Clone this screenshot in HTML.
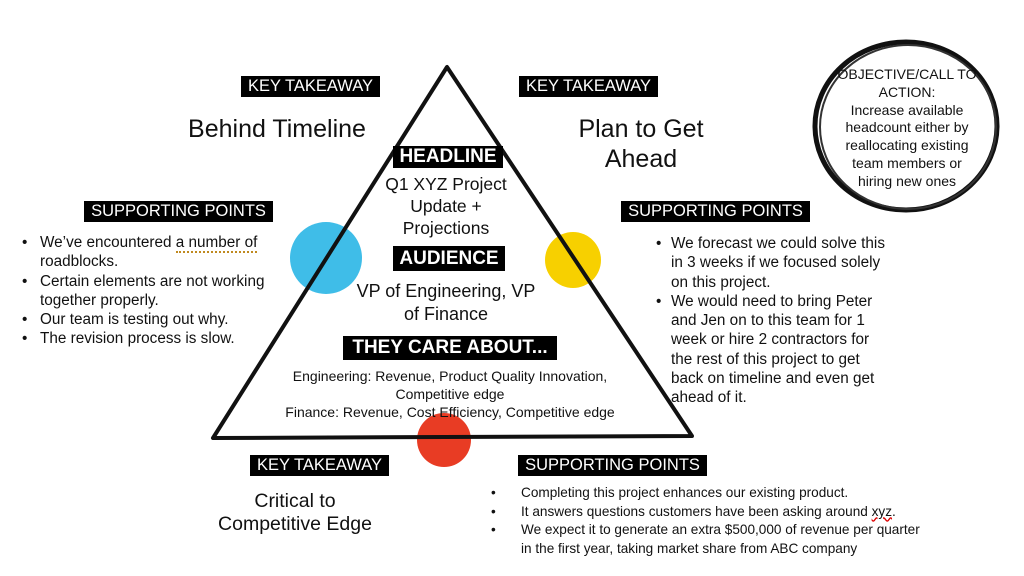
<!DOCTYPE html>
<html><head><meta charset="utf-8"><style>
body{margin:0;width:1024px;height:576px;background:#fff;position:relative;overflow:hidden;font-family:"Liberation Sans",sans-serif;color:#111}
.a{position:absolute;white-space:nowrap}
.lab{position:absolute;background:#000;color:#fff;font-size:16.5px;line-height:21px;text-align:center;white-space:nowrap}
.kt{width:139px}.sp{width:189px}
.b{position:absolute;font-weight:bold;background:#000;color:#fff;font-size:19px;text-align:center;white-space:nowrap}
.c{text-align:center}
.bl{position:absolute;font-size:15.3px;line-height:19.3px;white-space:nowrap}
.bl div{position:relative}
.dot:before{content:"•";position:absolute}
</style></head><body>
<svg width="1024" height="576" style="position:absolute;left:0;top:0">
<circle cx="326" cy="258" r="36" fill="#3fbde8"/>
<circle cx="573" cy="260" r="28" fill="#f7d000"/>
<circle cx="444" cy="440" r="27" fill="#e83c24"/>
<polygon points="447,67 213,438 692,436" fill="none" stroke="#111" stroke-width="4" stroke-linejoin="round"/>
<ellipse cx="906" cy="126" rx="91" ry="84" fill="none" stroke="#111" stroke-width="5"/>
<ellipse cx="908" cy="127" rx="88" ry="82" fill="none" stroke="#333" stroke-width="2"/>
</svg>

<div class="lab kt" style="left:241px;top:76px">KEY TAKEAWAY</div>
<div class="lab kt" style="left:519px;top:76px">KEY TAKEAWAY</div>
<div class="a c" style="left:157px;width:240px;top:115px;font-size:25px">Behind Timeline</div>
<div class="a c" style="left:521px;width:240px;top:114px;font-size:25px;line-height:30px">Plan to Get<br>Ahead</div>

<div class="lab sp" style="left:84px;top:201px">SUPPORTING POINTS</div>
<div class="lab sp" style="left:621px;top:201px">SUPPORTING POINTS</div>

<div class="bl" style="left:22px;top:233px">
<div class="dot"><span style="margin-left:18px">We’ve encountered <span style="border-bottom:2px dotted #c08a20">a number of</span></span></div>
<div style="margin-left:18px">roadblocks.</div>
<div class="dot"><span style="margin-left:18px">Certain elements are not working</span></div>
<div style="margin-left:18px">together properly.</div>
<div class="dot"><span style="margin-left:18px">Our team is testing out why.</span></div>
<div class="dot"><span style="margin-left:18px">The revision process is slow.</span></div>
</div>

<div class="bl" style="left:656px;top:234px;font-size:15.3px">
<div class="dot"><span style="margin-left:15px">We forecast we could solve this</span></div>
<div style="margin-left:15px">in 3 weeks if we focused solely</div>
<div style="margin-left:15px">on this project.</div>
<div class="dot"><span style="margin-left:15px">We would need to bring Peter</span></div>
<div style="margin-left:15px">and Jen on to this team for 1</div>
<div style="margin-left:15px">week or hire 2 contractors for</div>
<div style="margin-left:15px">the rest of this project to get</div>
<div style="margin-left:15px">back on timeline and even get</div>
<div style="margin-left:15px">ahead of it.</div>
</div>

<div class="b" style="left:393px;top:146px;width:110px;height:22px;line-height:22px">HEADLINE</div>
<div class="a c" style="left:346px;width:200px;top:173px;font-size:17.5px;line-height:22px">Q1 XYZ Project<br>Update +<br>Projections</div>
<div class="b" style="left:393px;top:246px;width:112px;height:25px;line-height:25px">AUDIENCE</div>
<div class="a c" style="left:320px;width:252px;top:280px;font-size:18px;line-height:23px">VP of Engineering, VP<br>of Finance</div>
<div class="b" style="left:343px;top:336px;width:214px;height:24px;line-height:24px">THEY CARE ABOUT...</div>
<div class="a c" style="left:250px;width:400px;top:367px;font-size:14px;line-height:18px">Engineering: Revenue, Product Quality Innovation,<br>Competitive edge<br>Finance: Revenue, Cost Efficiency, Competitive edge</div>

<div class="a c" style="left:807px;width:200px;top:66px;font-size:14px;line-height:17.8px">OBJECTIVE/CALL TO<br>ACTION:<br>Increase available<br>headcount either by<br>reallocating existing<br>team members or<br>hiring new ones</div>

<div class="lab kt" style="left:250px;top:455px">KEY TAKEAWAY</div>
<div class="a c" style="left:185px;width:220px;top:490px;font-size:19.5px;line-height:23px">Critical to<br>Competitive Edge</div>
<div class="lab sp" style="left:518px;top:455px">SUPPORTING POINTS</div>
<div class="bl" style="left:491px;top:484px;font-size:13.6px;line-height:18.5px">
<div class="dot"><span style="margin-left:30px">Completing this project enhances our existing product.</span></div>
<div class="dot"><span style="margin-left:30px">It answers questions customers have been asking around <span style="text-decoration:underline wavy #d00">xyz</span>.</span></div>
<div class="dot"><span style="margin-left:30px">We expect it to generate an extra $500,000 of revenue per quarter</span></div>
<div style="margin-left:30px">in the first year, taking market share from ABC company</div>
</div>
</body></html>
